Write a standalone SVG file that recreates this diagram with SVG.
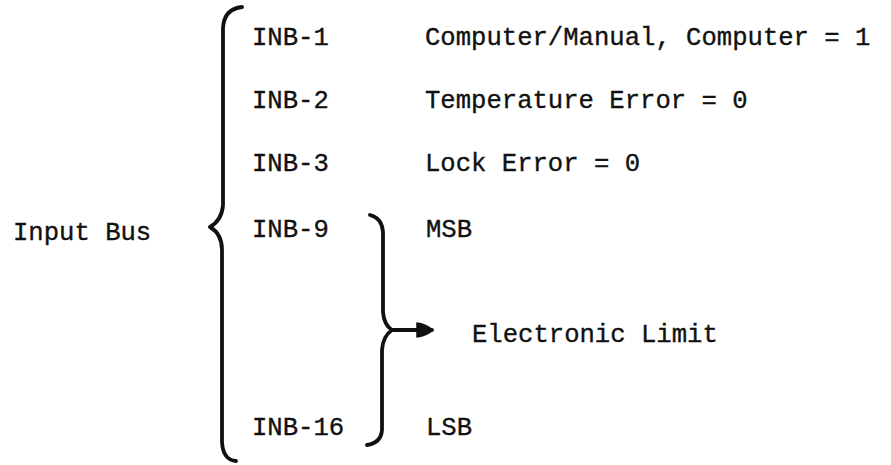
<svg xmlns="http://www.w3.org/2000/svg" width="891" height="465" viewBox="0 0 891 465">
<defs>
<style>
text{font-family:"Liberation Mono","Courier New",monospace;font-size:25.6px;fill:#111;stroke:#111;stroke-width:0.35}
.br{fill:none;stroke:#111;stroke-width:3.8;stroke-linecap:round;stroke-linejoin:round}
</style>
<marker id="ah" viewBox="0 0 10 10" refX="9" refY="5" markerWidth="4.6" markerHeight="5" markerUnits="strokeWidth" orient="auto">
<path d="M0,0.5 Q6,1 10,5 Q6,9 0,9.5 Z" fill="#111"/>
</marker>
</defs>
<rect width="891" height="465" fill="#fff"/>
<g id="input-bus"><text x="13" y="240">Input Bus</text></g>
<g id="inb1"><text x="252" y="45">INB-1</text><text x="425" y="45">Computer/Manual, Computer = 1</text></g>
<g id="inb2"><text x="252" y="108">INB-2</text><text x="425" y="108">Temperature Error = 0</text></g>
<g id="inb3"><text x="252" y="171">INB-3</text><text x="425" y="171">Lock Error = 0</text></g>
<g id="inb9"><text x="252" y="237">INB-9</text><text x="426" y="237">MSB</text></g>
<g id="inb16"><text x="252" y="435">INB-16</text><text x="426" y="435">LSB</text></g>
<g id="electronic-limit"><text x="472" y="342">Electronic Limit</text></g>
<g id="connectors">
<path class="br" d="M242,7 Q224,9 223,28 L223,205 Q222,220 210,227 Q222,234 222,250 L222,442 Q223,460 236,461"/>
<path class="br" d="M370,215 Q382,218 383,232 L383,312 Q384,325 392,330 Q383,336 382,350 L382,430 Q381,443 367,445"/>
<path class="br" d="M392,330 L432,330" marker-end="url(#ah)"/>
</g>
</svg>
